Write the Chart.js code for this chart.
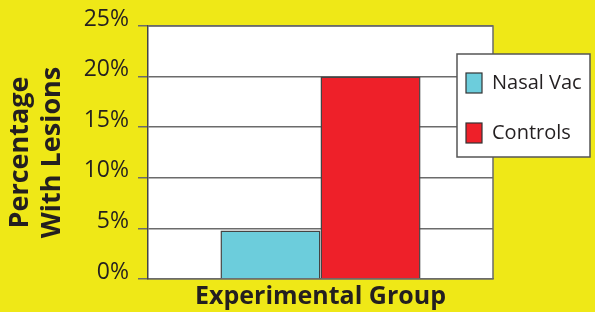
<!DOCTYPE html>
<html>
<head>
<meta charset="utf-8">
<script src="https://cdn.jsdelivr.net/npm/chart.js@4"></script>
<style>
  html, body { margin: 0; padding: 0; background: #EFE817; }
  #wrap { width: 595px; height: 312px; position: relative; }
</style>
</head>
<body>
<div id="wrap"><canvas id="lesionChart" width="595" height="312"></canvas></div>
<script>
// data
const groups = [''];
const seriesNames = ['Nasal Vac', 'Controls'];
const nasalVac = [4.8];
const controls = [20];
const yTicks = [0, 5, 10, 15, 20, 25];

const textColor = '#231F20';
const gridColor = '#6b6b6b';

// white plot area + frame
const plotBg = {
    id: 'plotBg',
    beforeDraw(chart) {
        const { ctx, chartArea: a } = chart;
        ctx.save();
        ctx.fillStyle = '#ffffff';
        ctx.fillRect(a.left, a.top, a.right - a.left, a.bottom - a.top);
        ctx.restore();
    },
    afterDatasetsDraw(chart) {
        const { ctx, chartArea: a } = chart;
        ctx.save();
        ctx.strokeStyle = gridColor;
        ctx.lineWidth = 1.5;
        ctx.beginPath();
        ctx.moveTo(a.left, a.top);
        ctx.lineTo(a.right, a.top);
        ctx.lineTo(a.right, a.bottom);
        ctx.stroke();
        ctx.restore();
    }
};

// boxed legend that sits over the right edge of the plot
const boxLegend = {
    id: 'boxLegend',
    afterDraw(chart) {
        const { ctx } = chart;
        const x = 457, y = 54, w = 133, h = 103;
        ctx.save();
        ctx.fillStyle = '#ffffff';
        ctx.fillRect(x, y, w, h);
        ctx.strokeStyle = '#555555';
        ctx.lineWidth = 1.5;
        ctx.strokeRect(x, y, w, h);
        ctx.font = '20px "Open Sans", sans-serif';
        ctx.textBaseline = 'middle';
        chart.data.datasets.forEach((ds, i) => {
            const cy = y + 29 + i * 50;
            ctx.fillStyle = ds.backgroundColor;
            ctx.fillRect(x + 9, cy - 10, 16, 20);
            ctx.strokeStyle = '#333333';
            ctx.lineWidth = 1.2;
            ctx.strokeRect(x + 9, cy - 10, 16, 20);
            ctx.fillStyle = textColor;
            ctx.fillText(ds.label, x + 35, cy);
        });
        ctx.restore();
    }
};

new Chart(document.getElementById('lesionChart'), {
    type: 'bar',
    data: {
        labels: groups,
        datasets: [
            {
                label: seriesNames[0],
                data: nasalVac,
                backgroundColor: '#6CCDDC',
                borderColor: '#444444',
                borderWidth: 1.5
            },
            {
                label: seriesNames[1],
                data: controls,
                backgroundColor: '#EE2029',
                borderColor: '#444444',
                borderWidth: 1.5
            }
        ]
    },
    options: {
        responsive: false,
        animation: false,
        layout: { padding: { top: 26, right: 102, left: 0, bottom: 0 } },
        categoryPercentage: 0.58,
        barPercentage: 1.0,
        plugins: {
            legend: { display: false },
            tooltip: { enabled: false }
        },
        scales: {
            x: {
                grid: { display: false },
                border: { display: true, color: gridColor, width: 1.5 },
                ticks: { display: false },
                afterFit(axis) { axis.height = 33; },
                title: {
                    display: true,
                    text: 'Experimental Group',
                    color: textColor,
                    font: { family: 'Open Sans', size: 25, weight: 'bold' },
                    padding: { top: 0, bottom: 0 }
                }
            },
            y: {
                min: 0,
                max: 25,
                afterBuildTicks(axis) {
                    axis.ticks = yTicks.map(v => ({ value: v }));
                },
                afterFit(axis) { axis.width = 148; },
                grid: {
                    color: gridColor,
                    lineWidth: 1.5,
                    tickLength: 10,
                    drawTicks: true
                },
                border: { display: true, color: '#444444', width: 1.5 },
                ticks: {
                    color: textColor,
                    font: { family: 'Open Sans', size: 23 },
                    padding: 9,
                    labelOffset: -7,
                    callback: v => v + '%'
                },
                title: {
                    display: true,
                    text: ['Percentage', 'With Lesions'],
                    color: textColor,
                    font: { family: 'Open Sans', size: 27, weight: 'bold', lineHeight: 1.2 },
                    padding: { top: 4, bottom: 0 }
                }
            }
        }
    },
    plugins: [plotBg, boxLegend]
});
</script>
</body>
</html>
